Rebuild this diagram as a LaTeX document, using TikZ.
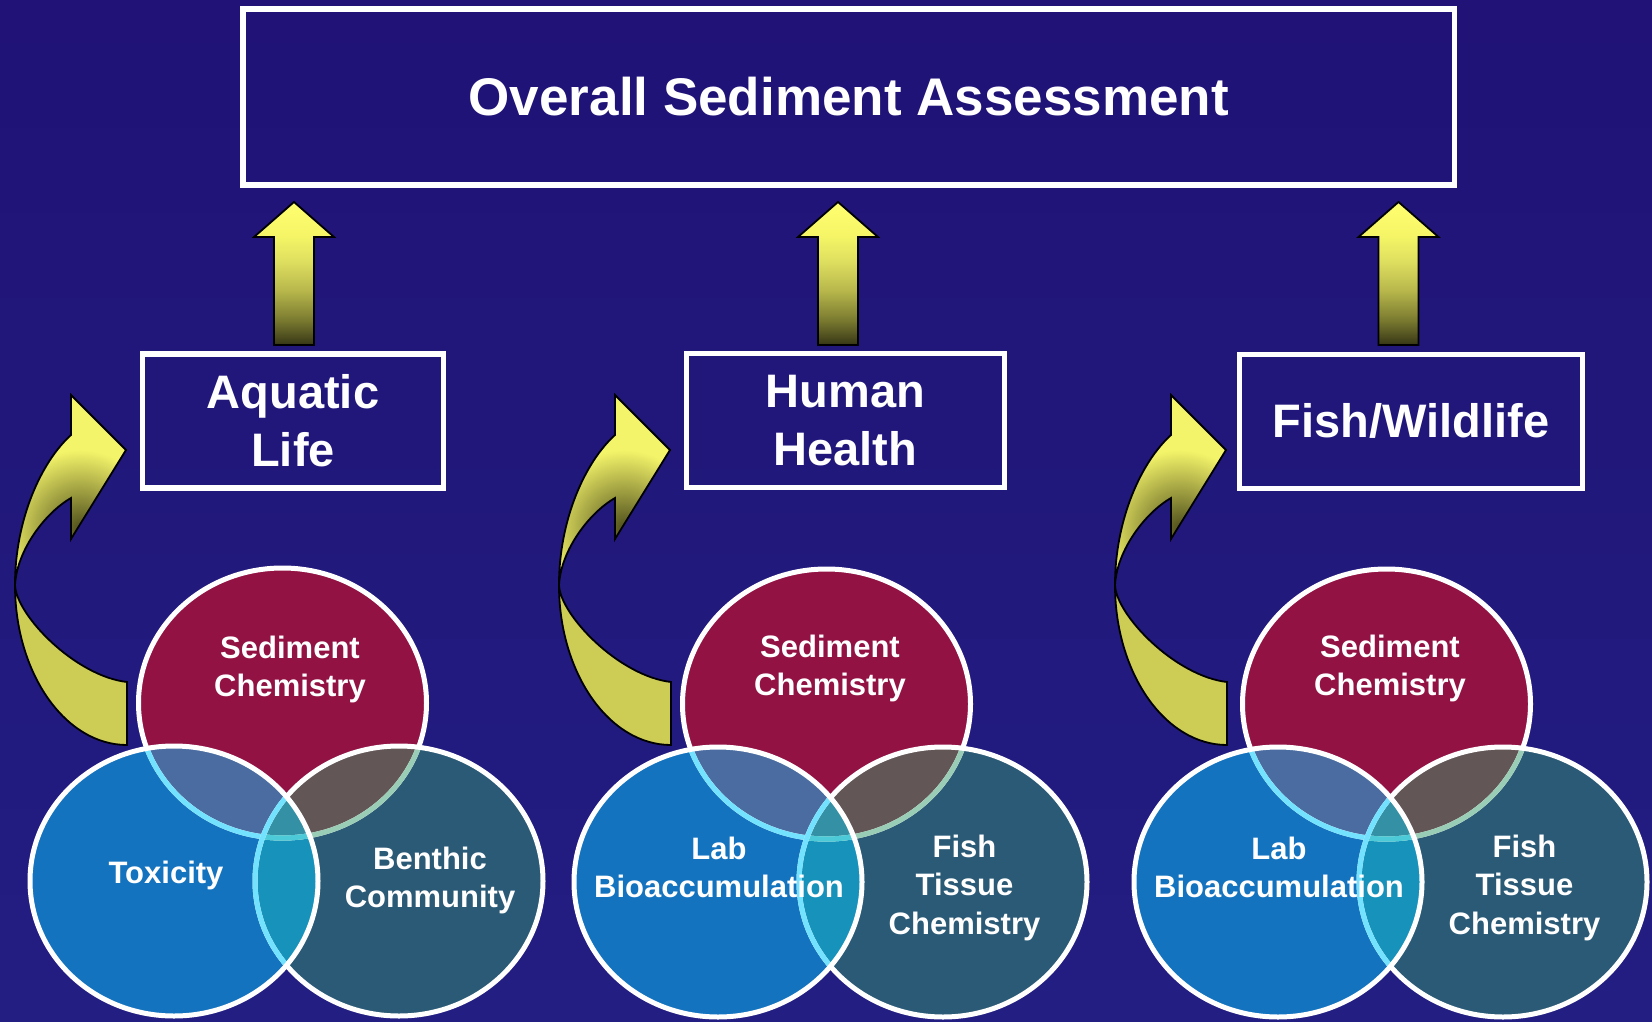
\documentclass[tikz,border=0pt]{standalone}
\usepackage{fontspec}
\setmainfont{Liberation Sans}
\usetikzlibrary{calc}
\definecolor{bgtop}{RGB}{32,18,118}
\definecolor{bgmid}{RGB}{36,35,136}
\definecolor{bgbot}{RGB}{35,30,130}
\definecolor{cRed}{RGB}{146,18,68}
\definecolor{cBlue}{RGB}{20,115,191}
\definecolor{cTeal}{RGB}{43,90,118}
\definecolor{cRB}{RGB}{74,108,160}
\definecolor{cRT}{RGB}{98,86,86}
\definecolor{cBT}{RGB}{23,147,187}
\definecolor{cRBT}{RGB}{52,144,164}
\definecolor{lnCyan}{RGB}{114,226,255}
\definecolor{lnGreen}{RGB}{154,205,181}
\definecolor{lnMix}{RGB}{76,202,216}
\definecolor{arLight}{RGB}{244,244,106}
\definecolor{arDark}{RGB}{80,80,28}
\definecolor{arLow}{RGB}{205,205,85}
\definecolor{upTop}{RGB}{255,255,112}
\definecolor{upA}{RGB}{244,244,102}
\definecolor{upB}{RGB}{224,224,96}
\definecolor{upC}{RGB}{184,184,76}
\definecolor{upD}{RGB}{122,122,48}
\definecolor{upBot}{RGB}{54,54,22}
\pgfdeclareverticalshading{upgrad}{100bp}{color(0bp)=(upBot); color(25bp)=(upBot); color(33.7bp)=(upD); color(44.2bp)=(upC); color(54.7bp)=(upB); color(62.7bp)=(upA); color(75bp)=(upTop); color(100bp)=(upTop)}
\tikzset{
  box/.style={draw=white, line width=5.5pt, inner sep=0pt, text=white,
    font=\bfseries\fontsize{47}{58}\selectfont, align=center},
  ring/.style={line width=5pt},
  vlabel/.style={text=white, font=\bfseries\fontsize{31}{38.5}\selectfont,
    align=center, text width=320pt, anchor=base, inner sep=0pt},
  arrowline/.style={draw=black, line width=1.8pt, line join=miter},
}
\newcommand\RedE{(0,0) ellipse [x radius=144pt, y radius=135pt]}
\newcommand\BlueE{(-108.5,178) ellipse [x radius=144pt, y radius=135pt]}
\newcommand\TealE{(116.5,178) ellipse [x radius=144pt, y radius=135pt]}
\newcommand\CurvUpper{(71,435) -- (71,395) -- (126,450) -- (71,539) -- (71,498) .. controls (45,513) and (17,550) .. (15,585) .. controls (15,520) and (41,462) .. (71,435) -- cycle}
\newcommand\CurvLower{(15,585) .. controls (15,673) and (65,745) .. (127,745) -- (127,682) .. controls (75,676) and (16,615) .. (15,585) -- cycle}
\newcommand\UpArrowPath{(-20,0) -- (-20,-108) -- (-40,-108) -- (0,-143) -- (40,-108) -- (20,-108) -- (20,0) -- cycle}
\newcommand\VennShapes{%
  \fill[cRed] \RedE;
  \fill[cBlue] \BlueE;
  \fill[cTeal] \TealE;
  \begin{scope}\clip \RedE; \fill[cRB] \BlueE; \fill[cRT] \TealE; \end{scope}
  \begin{scope}\clip \BlueE; \fill[cBT] \TealE; \clip \RedE; \fill[cRBT] \TealE; \end{scope}
  \draw[ring, white] \RedE;
  \begin{scope}\clip \BlueE; \draw[ring, lnCyan] \RedE; \end{scope}
  \begin{scope}\clip \TealE; \draw[ring, lnGreen] \RedE; \clip \BlueE; \draw[ring, lnMix] \RedE; \end{scope}
  \draw[ring, white] \TealE;
  \begin{scope}\clip \BlueE; \draw[ring, lnCyan] \TealE; \end{scope}
  \draw[ring, white] \BlueE;
}
\newcommand\CurvedArrow{%
  \fill[arLow] \CurvLower;
  \draw[arrowline] \CurvLower;
  \fill[arLight] \CurvUpper;
  \begin{scope}\clip \CurvUpper;
    \shade[inner color=arDark, outer color=arLight] (80,528) circle (78pt);
  \end{scope}
  \draw[arrowline] \CurvUpper;
}
\begin{document}
\begin{tikzpicture}[x=1pt,y=-1pt]
\useasboundingbox (0,0) rectangle (1652,1022);
\shade[top color=bgtop, middle color=bgmid, bottom color=bgbot] (0,0) rectangle (1652,1022);

% top box
\node[box, font=\bfseries\fontsize{53}{60}\selectfont, minimum width=1211.5pt, minimum height=176pt] (overall) at (848.75,97) {Overall Sediment Assessment};

% second level boxes
\node[box, minimum width=301pt, minimum height=134pt] (aquatic) at (293,421) {Aquatic\\Life};
\node[box, minimum width=318pt, minimum height=134pt] (human) at (845.5,420.5) {Human\\Health};
\node[box, minimum width=343pt, minimum height=134pt] (fish) at (1411,421.25) {Fish/Wildlife};

% up arrows
\coordinate (ua1) at (294,345);
\coordinate (ua2) at (838,345);
\coordinate (ua3) at (1398.5,345);
\foreach \c in {ua1,ua2,ua3}{
  \begin{scope}[shift={(\c)}]
    \shadedraw[shading=upgrad, arrowline] \UpArrowPath;
  \end{scope}
}

% curved arrows
\begin{scope}\CurvedArrow\end{scope}
\begin{scope}[shift={(544,0)}]\CurvedArrow\end{scope}
\begin{scope}[shift={(1100,0)}]\CurvedArrow\end{scope}

% Venn groups
\begin{scope}[shift={(282.5,703)}]\VennShapes\end{scope}
\begin{scope}[shift={(826.5,704)}]\VennShapes\end{scope}
\begin{scope}[shift={(1386.5,704)}]\VennShapes\end{scope}

% labels left group
\node[vlabel] (sed1) at (290,658) {Sediment\\Chemistry};
\node[vlabel] (tox1) at (166,883) {Toxicity};
\node[vlabel] (ben1) at (430,869) {Benthic\\Community};
% middle group
\node[vlabel] (sed2) at (830,657) {Sediment\\Chemistry};
\node[vlabel] (lab2) at (719,859) {Lab\\Bioaccumulation};
\node[vlabel] (fis2) at (964.5,857) {Fish\\Tissue\\Chemistry};
% right group
\node[vlabel] (sed3) at (1390,657) {Sediment\\Chemistry};
\node[vlabel] (lab3) at (1279,859) {Lab\\Bioaccumulation};
\node[vlabel] (fis3) at (1524.5,857) {Fish\\Tissue\\Chemistry};
\end{tikzpicture}
\end{document}
